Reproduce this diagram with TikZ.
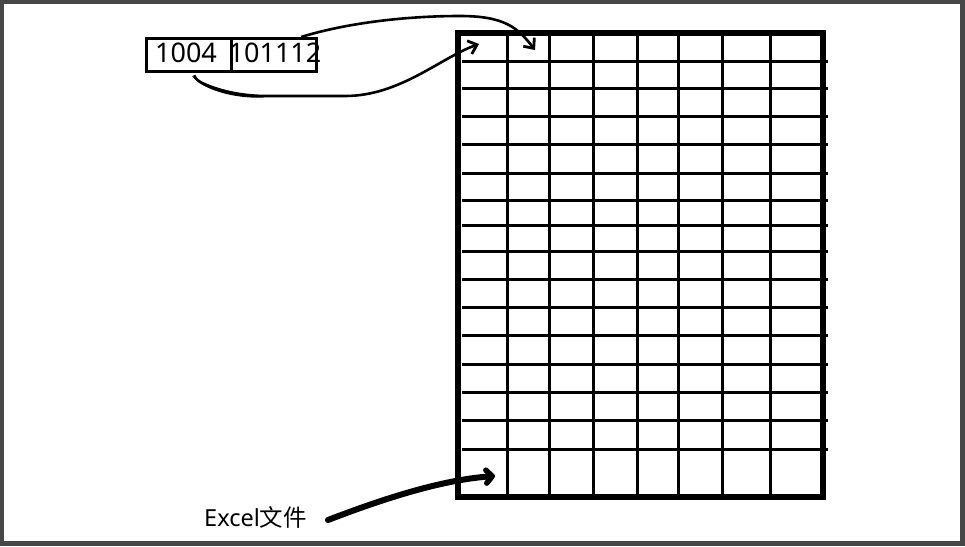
\documentclass[tikz,border=0pt]{standalone}
\usepackage{fontspec}
\setmainfont{Noto Sans}
\newfontfamily\cjk{Noto Sans CJK SC}
\usetikzlibrary{arrows.meta}
\begin{document}
\begin{tikzpicture}[x=1pt,y=-1pt,
  cellbox/.style={draw=black,line width=3.2pt,minimum width=85pt,minimum height=33pt,inner sep=0pt,anchor=north west},
  gridline/.style={line width=3pt},
  link/.style={line width=2.6pt,-{Straight Barb[length=8pt,width=14pt,line width=2.8pt]}},
  bold link/.style={line width=6pt,line cap=round,-{Straight Barb[length=6pt,width=13pt,line width=5.5pt,round]}}]
\useasboundingbox (0,0) rectangle (965,546);
\fill[white] (0,0) rectangle (965,546);
\draw[line width=4.5pt,color=black!72] (1.5,1.5) rectangle (962.5,543.5);
% boxes
\node[cellbox] (b1) at (145,37) {};
\node[cellbox] (b2) at (230,37) {};
\node[font=\fontsize{27}{30}\selectfont] (t1) at (186,53) {1004};
\node[font=\fontsize{27}{30}\selectfont] (t2) at (275,53) {101112};
% grid
\foreach \y in {61,88,116,144,173,200,225,251,279,307,335,364,392,420,449}
  \draw[gridline] (462,\y) -- (828,\y);
\foreach \x in {507,549,593,637,678,722,770}
  \draw[gridline] (\x,33) -- (\x,500);
\draw[line width=5.5pt] (458,33) rectangle (823,497);
\coordinate (c1) at (479,44);
\coordinate (c2) at (535,50);
\coordinate (c3) at (495,476);
% arrows
\draw[link] (b1.south)+(5,2) .. controls (198,88) and (240,96) .. (265,96) -- (345,96)
  .. controls (400,96) and (440,58) .. (c1);
\fill (192,76) .. controls (210,88) and (240,94) .. (264,97.5) .. controls (240,99) and (205,92) .. (192,76) -- cycle;
\draw[link] (b2.north)+(27,0) .. controls (350,22) and (410,16) .. (460,16)
  .. controls (505,16) and (518,28) .. (c2);
\node[font=\fontsize{23.5}{27}\selectfont,anchor=west,inner sep=0pt] (ex) at (204,517) {Excel{\cjk 文件}};
\draw[bold link] (328,520) .. controls (380,500) and (440,480) .. (c3);
\end{tikzpicture}
\end{document}
